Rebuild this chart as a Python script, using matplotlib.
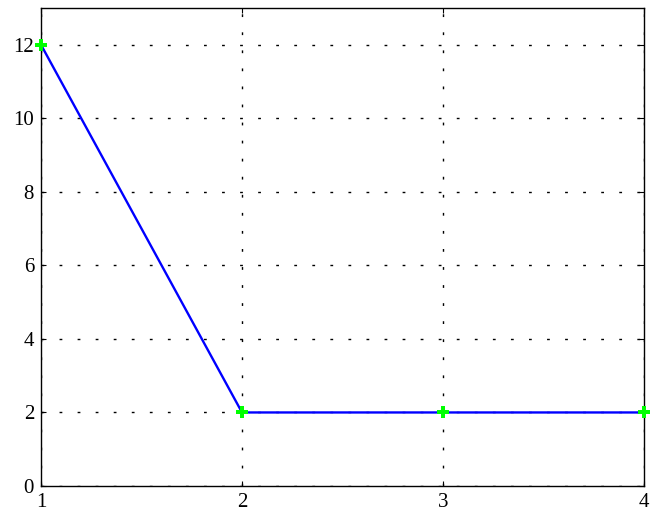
import matplotlib
matplotlib.use("Agg")
import matplotlib.pyplot as plt

x_values = [1, 2, 3, 4]
y_values = [12, 2, 2, 2]
y_ticks = [0, 2, 4, 6, 8, 10, 12]

plt.rcParams['font.family'] = ['Liberation Serif', 'DejaVu Serif']

fig = plt.figure(figsize=(6.53, 5.11), dpi=100)
ax = fig.add_axes([41 / 653, 25 / 511, 603 / 653, 478 / 511])

ax.plot(x_values, y_values, color='#0000ff', linewidth=1.7, zorder=3)
ax.plot(x_values, y_values, linestyle='none', marker='P', markersize=8.5,
        color='#00ff00', markeredgewidth=0, zorder=4, clip_on=False)

ax.set_xlim(1, 4)
ax.set_ylim(0, 13)
ax.set_xticks(x_values)
ax.set_yticks(y_ticks)
# inward ticks on all four sides, like a boxed plot
ax.tick_params(direction='in', length=3.5, width=0.8, labelsize=15, pad=5,
               top=True, right=True)
ax.grid(True, color='black', linestyle=(0, (2.0, 11.0)), linewidth=1.0)
for spine in ax.spines.values():
    spine.set_linewidth(1.0)

fig.savefig('out.png', dpi=100)
